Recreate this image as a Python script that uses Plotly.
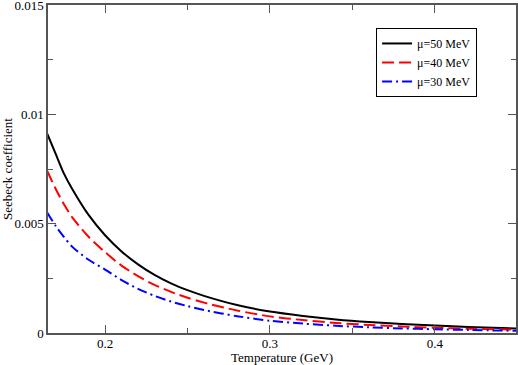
import plotly.graph_objects as go

temperature = [0.165, 0.17, 0.175, 0.18, 0.19, 0.2, 0.21, 0.22, 0.23, 0.24, 0.25, 0.26,
               0.28, 0.3, 0.32, 0.34, 0.36, 0.38, 0.4, 0.42, 0.45]
seebeck_mu50 = [0.0091, 0.0082, 0.0073, 0.0066, 0.0054, 0.00447, 0.00373, 0.00314, 0.00266, 0.00227,
                0.00196, 0.0017, 0.00128, 0.00098, 0.00078, 0.00062, 0.0005, 0.00041, 0.00034,
                0.00028, 0.0002]
seebeck_mu40 = [0.0074, 0.0066, 0.0059, 0.0053, 0.0044, 0.0037, 0.00308, 0.0026, 0.0022, 0.00188,
                0.00161, 0.00139, 0.00103, 0.00076, 0.00059, 0.00046, 0.00037, 0.0003, 0.00024,
                0.0002, 0.00015]
seebeck_mu30 = [0.0055, 0.0049, 0.0044, 0.00395, 0.00335, 0.0029, 0.00242, 0.00202, 0.0017, 0.00144,
                0.00123, 0.00105, 0.00077, 0.00056, 0.00043, 0.00033, 0.00026, 0.00021, 0.00017,
                0.00014, 0.0001]
series_names = ["\u03bc=50 MeV", "\u03bc=40 MeV", "\u03bc=30 MeV"]
series_colors = ["black", "red", "blue"]
series_dash = ["solid", "12px,5px", "10px,4px,2px,4px"]

fig = go.Figure()
for name, vals, col, dash in zip(series_names, [seebeck_mu50, seebeck_mu40, seebeck_mu30],
                                 series_colors, series_dash):
    fig.add_trace(go.Scatter(x=temperature, y=vals, mode="lines", name=name,
                             line=dict(color=col, width=2, dash=dash, shape="spline", smoothing=0.8)))

font = dict(family="Times New Roman, Liberation Serif, serif", size=13, color="black")
axis_common = dict(showline=True, linecolor="#555", linewidth=1.5, mirror="ticks",
                   ticks="inside", ticklen=8, tickcolor="#555", tickwidth=1,
                   showgrid=False, zeroline=False, tickfont=font, automargin=False,
                   ticklabeloverflow="allow")

fig.update_layout(
    width=518, height=365,
    margin=dict(l=48, r=2, t=5, b=32),
    paper_bgcolor="white", plot_bgcolor="white",
    font=font,
    showlegend=True,
    legend=dict(x=0.701, y=0.93, xanchor="left", yanchor="top",
                bordercolor="black", borderwidth=1, bgcolor="white",
                font=dict(family=font["family"], size=12, color="black"),
                itemwidth=30, tracegroupgap=0),
    xaxis=dict(range=[0.1654, 0.4492], tickmode="linear", tick0=0.2, dtick=0.1,
               ticklabelstandoff=-2,
               minor=dict(ticks="inside", ticklen=5, tickcolor="#555", dtick=0.05, tick0=0.2, showgrid=False),
               title=dict(text="Temperature (GeV)", font=font),
               **axis_common),
    yaxis=dict(range=[0, 0.0150001], tickmode="array", tickvals=[0, 0.005, 0.01, 0.015],
               ticktext=["0", "0.005", "0.01", "0.015"],
               minor=dict(ticks="inside", ticklen=5, tickcolor="#555", tickvals=[0.0025, 0.0075, 0.0125], showgrid=False),
               title=dict(text="Seebeck coefficient", font=font),
               **axis_common),
)

fig.write_html("out.html", config={"displayModeBar": False},
               post_script="document.body.style.margin='0';document.body.style.padding='0';")
